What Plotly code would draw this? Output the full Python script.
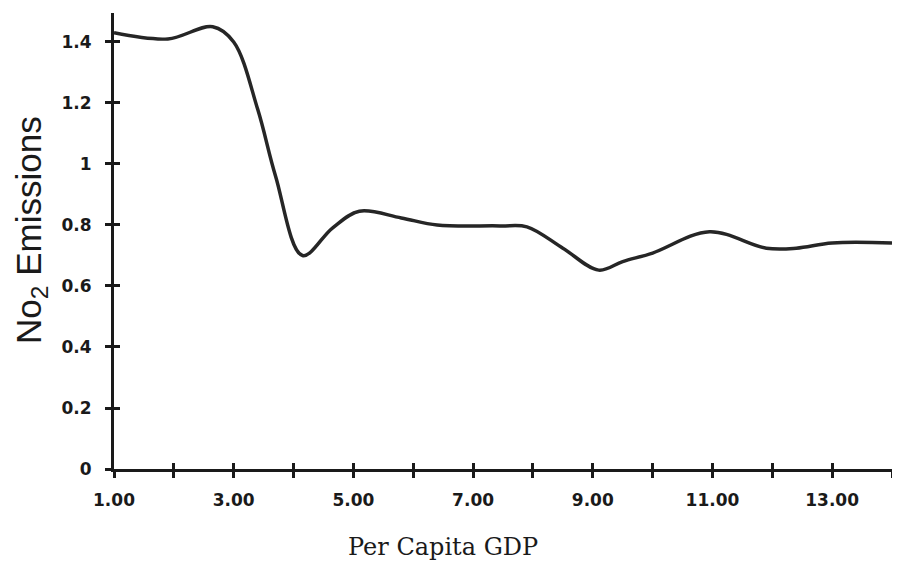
import plotly.graph_objects as go

# Data
gdp = [1.0, 1.9, 2.65, 3.0, 3.4, 3.7, 4.15, 4.65, 5.1, 5.8, 6.4, 7.45, 7.9, 8.5, 9.1, 9.5, 10.0, 10.95, 11.9, 12.4, 13.0, 14.0]
no2 = [1.43, 1.41, 1.45, 1.40, 1.18, 0.96, 0.70, 0.79, 0.845, 0.823, 0.80, 0.797, 0.794, 0.724, 0.652, 0.68, 0.708, 0.778, 0.724, 0.724, 0.741, 0.741]

x_tickvals = [1, 3, 5, 7, 9, 11, 13]
x_ticktext = ["1.00", "3.00", "5.00", "7.00", "9.00", "11.00", "13.00"]
y_tickvals = [0, 0.2, 0.4, 0.6, 0.8, 1.0, 1.2, 1.4]
y_ticktext = ["0", "0.2", "0.4", "0.6", "0.8", "1", "1.2", "1.4"]

INK = "#1a1a1a"

fig = go.Figure()
fig.add_trace(go.Scatter(
    x=gdp, y=no2, mode="lines",
    line=dict(color="#262626", width=3.5, shape="spline", smoothing=1.0),
    showlegend=False, hoverinfo="skip",
))
# dummy trace to activate the overlay axes (inner halves of the crossing ticks)
fig.add_trace(go.Scatter(x=[None], y=[None], xaxis="x2", yaxis="y2", showlegend=False, hoverinfo="skip"))

minor_out = dict(dtick=1, tick0=0, ticks="outside", ticklen=6, tickwidth=2.5, tickcolor=INK)
minor_in = dict(dtick=1, tick0=0, ticks="inside", ticklen=6, tickwidth=2.5, tickcolor=INK)

fig.update_layout(
    width=900, height=565,
    margin=dict(l=106, r=16, t=5, b=104, autoexpand=False),
    paper_bgcolor="white", plot_bgcolor="white",
    xaxis=dict(
        range=[1, 14], tickvals=x_tickvals, ticktext=x_ticktext, automargin=False,
        showgrid=False, zeroline=False, showline=True, linecolor=INK, linewidth=3,
        ticks="outside", ticklen=6, tickwidth=2.5, tickcolor=INK,
        minor=minor_out,
        tickfont=dict(family="DejaVu Sans", size=17, color=INK, weight="bold"),
        ticklabelstandoff=8,
    ),
    yaxis=dict(
        range=[0, 1.495], tickvals=y_tickvals, ticktext=y_ticktext, automargin=False,
        showgrid=False, zeroline=False, showline=True, linecolor=INK, linewidth=3,
        ticks="outside", ticklen=6, tickwidth=2.5, tickcolor=INK,
        tickfont=dict(family="DejaVu Sans", size=17, color=INK, weight="bold"),
        ticklabelstandoff=10,
    ),
    xaxis2=dict(
        range=[1, 14], showticklabels=False, overlaying="x", automargin=False,
        tickvals=x_tickvals, showgrid=False, zeroline=False, ticks="inside", ticklen=6,
        tickwidth=2.5, tickcolor=INK, minor=minor_in, side="bottom", anchor="y",
    ),
    yaxis2=dict(
        range=[0, 1.495], showticklabels=False, overlaying="y", automargin=False,
        tickvals=y_tickvals, showgrid=False, zeroline=False, ticks="inside", ticklen=6,
        tickwidth=2.5, tickcolor=INK, side="left", anchor="x",
    ),
)

fig.add_annotation(
    text="No<sub>2</sub> Emissions", textangle=-90,
    xref="paper", yref="paper", x=-0.1075, y=0.525, xanchor="center", yanchor="middle",
    showarrow=False, font=dict(family="Liberation Sans", size=35, color=INK),
)
fig.add_annotation(
    text="Per Capita GDP",
    xref="paper", yref="paper", x=0.4225, y=-0.172, xanchor="center", yanchor="middle",
    showarrow=False, font=dict(family="DejaVu Serif", size=24, color=INK),
)

fig.write_html("out.html")
